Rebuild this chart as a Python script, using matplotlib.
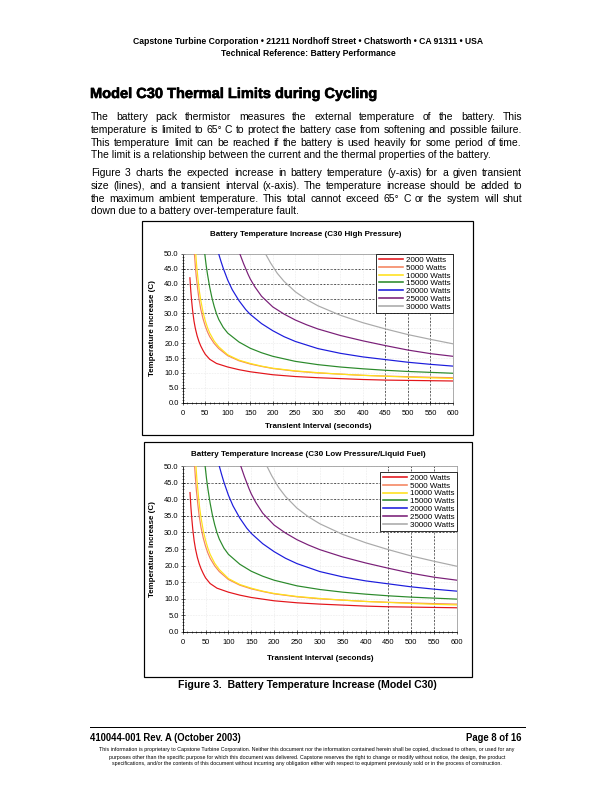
import matplotlib
matplotlib.use('Agg')
import matplotlib.pyplot as plt
import matplotlib.patheffects as pe
from matplotlib.patches import Rectangle
from matplotlib.ticker import MultipleLocator, FormatStrFormatter

plt.rcParams['font.family'] = ['Liberation Sans', 'DejaVu Sans']

# curve values (seconds, deg C)
t_2000 = [16, 18, 20, 22, 25, 28, 32, 36, 40, 45, 50, 60, 75, 100, 125, 150, 200, 250, 300, 350, 400, 450, 500, 550, 600]
temp_2000 = [42, 37.5, 34, 31, 27.5, 25, 22.5, 20.6, 19.1, 17.6, 16.3, 14.6, 13.2, 12.0, 11.1, 10.4, 9.4, 8.8, 8.4, 8.1, 7.8, 7.6, 7.5, 7.4, 7.3]

t_5000 = [26, 28, 30, 33, 36, 40, 45, 50, 55, 60, 70, 80, 100, 125, 150, 175, 200, 250, 300, 350, 400, 450, 500, 550, 600]
temp_5000 = [50, 46, 42.5, 38.5, 35, 31.5, 28.3, 25.8, 23.8, 22.2, 19.9, 18.2, 15.8, 14.1, 13.0, 12.2, 11.5, 10.6, 10.0, 9.6, 9.2, 8.95, 8.75, 8.55, 8.4]

t_10000 = [29, 31, 34, 37, 40, 45, 50, 55, 60, 70, 80, 100, 125, 150, 175, 200, 250, 300, 350, 400, 450, 500, 550, 600]
temp_10000 = [50, 46, 41.5, 37.5, 34.5, 30.5, 27.6, 25.3, 23.4, 20.7, 18.8, 16.1, 14.3, 13.2, 12.3, 11.6, 10.7, 10.1, 9.6, 9.2, 8.9, 8.6, 8.35, 8.15]

t_15000 = [49, 52, 55, 60, 65, 70, 75, 80, 90, 100, 125, 150, 175, 200, 250, 300, 350, 400, 450, 500, 550, 600]
temp_15000 = [50, 46.3, 43.2, 38.8, 35.2, 32.3, 29.9, 28.0, 25.3, 23.4, 20.4, 18.3, 16.8, 15.6, 13.9, 12.8, 12.0, 11.4, 10.9, 10.5, 10.2, 9.9]

t_20000 = [80, 85, 90, 100, 110, 125, 140, 150, 175, 200, 225, 250, 300, 350, 400, 450, 500, 550, 600]
temp_20000 = [50, 47.5, 45.2, 41.2, 38.0, 34.3, 31.3, 29.7, 26.6, 24.2, 22.2, 20.6, 18.2, 16.6, 15.4, 14.5, 13.6, 12.9, 12.3]

t_25000 = [127, 135, 145, 150, 160, 175, 200, 225, 250, 275, 300, 350, 400, 450, 500, 550, 600]
temp_25000 = [50, 46.8, 43.2, 41.6, 39.0, 35.8, 32.2, 29.8, 27.8, 26.2, 24.8, 22.6, 20.8, 19.2, 17.7, 16.5, 15.6]

t_30000 = [184, 195, 210, 225, 250, 275, 300, 350, 400, 450, 500, 550, 600]
temp_30000 = [50, 47, 43.5, 40.8, 37.3, 34.7, 32.6, 29.4, 26.9, 24.8, 22.9, 21.3, 19.8]

labels = ['2000 Watts', '5000 Watts', '10000 Watts', '15000 Watts',
          '20000 Watts', '25000 Watts', '30000 Watts']
colors = ['#e3151b', '#f4845f', '#ffe11a', '#2b8a2b', '#1c1cdc', '#7a1f78', '#aaaaaa']
times = [t_2000, t_5000, t_10000, t_15000, t_20000, t_25000, t_30000]
temps = [temp_2000, temp_5000, temp_10000, temp_15000, temp_20000, temp_25000, temp_30000]

W, H = 612, 792
fig = plt.figure(figsize=(W / 72, H / 72), dpi=72)
renderer = fig.canvas.get_renderer()


def fx(x):
    return x / W


def fy(y):
    return 1 - y / H


def txt(x, y, s, **kw):
    kw.setdefault('va', 'center')
    return fig.text(fx(x), fy(y), s, **kw)


# page header
txt(308, 42, 'Capstone Turbine Corporation \u2022 21211 Nordhoff Street \u2022 Chatsworth \u2022 CA 91311 \u2022 USA',
    ha='center', fontsize=8.6, fontweight='bold')
txt(308, 53, 'Technical Reference: Battery Performance', ha='center', fontsize=8.6, fontweight='bold')
txt(90, 94, 'Model C30 Thermal Limits during Cycling', fontsize=14.6, fontweight='bold',
    path_effects=[pe.withStroke(linewidth=0.6, foreground='black')])

L, R = 91, 522
body_fs = 10.4


def put_line(s, y, justify=True):
    if not justify:
        txt(L, y, s, fontsize=body_fs)
        return
    words = s.split()
    widths = []
    for w in words:
        t = fig.text(0, 0, w, fontsize=body_fs)
        widths.append(t.get_window_extent(renderer).width)
        t.remove()
    gap = (R - L - sum(widths)) / (len(words) - 1)
    x = L
    for w, wd in zip(words, widths):
        txt(x, y, w, fontsize=body_fs)
        x += wd + gap


para1 = ['The battery pack thermistor measures the external temperature of the battery.  This',
         'temperature is limited to 65\u00b0 C to protect the battery case from softening and possible failure.',
         'This temperature limit can be reached if the battery is used heavily for some period of time.',
         'The limit is a relationship between the current and the thermal properties of the battery.']
para2 = ['Figure 3 charts the expected increase in battery temperature (y-axis) for a given transient',
         'size (lines), and a transient interval (x-axis).  The temperature increase should be added to',
         'the maximum ambient temperature.  This total cannot exceed 65\u00b0 C or the system will shut',
         'down due to a battery over-temperature fault.']
for i, s in enumerate(para1):
    put_line(s, 117.5 + 12.6 * i, i < 3)
for i, s in enumerate(para2):
    put_line(s, 173.5 + 12.6 * i, i < 3)


def chart(frame, plot, title, title_y, xlab_y, leg_top):
    fx0, fy0, fx1, fy1 = frame
    fig.patches.append(Rectangle((fx(fx0), fy(fy1)), fx(fx1 - fx0), (fy1 - fy0) / H,
                                 transform=fig.transFigure, fill=False, edgecolor='black', lw=1.2))
    x0, y0, x1, y1 = plot
    ax = fig.add_axes([fx(x0), fy(y1), fx(x1 - x0), (y1 - y0) / H])
    for t, v, c, lab in zip(times, temps, colors, labels):
        ax.plot(t, v, color=c, lw=1.2, label=lab, zorder=3)
    ax.set_xlim(0, 600)
    ax.set_ylim(0, 50)
    ax.xaxis.set_major_locator(MultipleLocator(50))
    ax.xaxis.set_minor_locator(MultipleLocator(10))
    ax.yaxis.set_major_locator(MultipleLocator(5))
    ax.yaxis.set_minor_locator(MultipleLocator(1))
    ax.yaxis.set_major_formatter(FormatStrFormatter('%.1f'))
    ax.grid(True, which='major', color='#dddddd', ls=':', lw=0.6, zorder=0)
    for yv in [30, 35, 40, 45]:
        ax.axhline(yv, color='black', ls=(0, (3, 2)), lw=0.7, zorder=1)
    for xv in [450, 500, 550]:
        ax.axvline(xv, color='black', ls=(0, (3, 2)), lw=0.7, zorder=1)
    ax.tick_params(which='major', direction='inout', length=4, width=0.6, labelsize=7.5, pad=2)
    ax.tick_params(which='minor', direction='inout', length=2.5, width=0.5)
    ax.tick_params(axis='x', pad=5)
    for s in ['top', 'right']:
        ax.spines[s].set_color('#999999')
        ax.spines[s].set_linewidth(0.8)
    for s in ['left', 'bottom']:
        ax.spines[s].set_linewidth(0.8)
    leg = ax.legend(loc='upper right', bbox_to_anchor=(1.0, leg_top), borderaxespad=0,
                    fontsize=8, handlelength=3.0, handletextpad=0.4, labelspacing=0.02,
                    borderpad=0.3, fancybox=False, framealpha=1, edgecolor='black')
    leg.get_frame().set_linewidth(0.8)
    for h in leg.get_lines():
        h.set_linewidth(1.6)
    leg.set_zorder(5)
    txt((x0 + x1) / 2 - 12, title_y, title, ha='center', fontsize=8, fontweight='bold')
    txt((x0 + x1) / 2, xlab_y, 'Transient Interval (seconds)', ha='center', fontsize=8, fontweight='bold')
    txt(152, (y0 + y1) / 2, 'Temperature increase (C)', ha='center', rotation=90,
        fontsize=8, fontweight='bold')
    return ax


chart((142, 221, 473, 435), (182.7, 254, 453, 402.7),
      'Battery Temperature Increase (C30 High Pressure)', 234.5, 426.5, 1.0)
chart((144, 442, 472, 677), (182.7, 466, 457, 632),
      'Battery Temperature Increase (C30 Low Pressure/Liquid Fuel)', 455, 658, 0.964)

txt(307, 685, 'Figure 3.  Battery Temperature Increase (Model C30)', ha='center', fontsize=10.5, fontweight='bold')

# footer
fig.add_artist(plt.Line2D([fx(90), fx(525)], [fy(727), fy(727)], color='black', lw=1.0))
txt(90, 738, '410044-001 Rev. A (October 2003)', fontsize=9.5, fontweight='bold')
txt(522, 738, 'Page 8 of 16', ha='right', fontsize=9.5, fontweight='bold')
disclaimer = ['This information is proprietary to Capstone Turbine Corporation. Neither this document nor the information contained herein shall be copied, disclosed to others, or used for any',
              'purposes other than the specific purpose for which this document was delivered. Capstone reserves the right to change or modify without notice, the design, the product',
              'specifications, and/or the contents of this document without incurring any obligation either with respect to equipment previously sold or in the process of construction.']
for i, s in enumerate(disclaimer):
    txt(307, 750 + 7 * i, s, ha='center', fontsize=5.3)

fig.savefig('out.png', dpi=72)
